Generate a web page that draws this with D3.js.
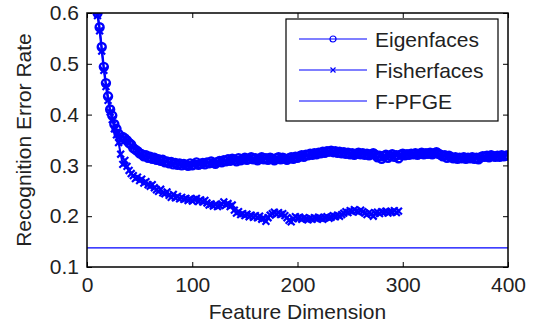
<!DOCTYPE html>
<html>
<head>
<meta charset="utf-8">
<script src="https://cdn.jsdelivr.net/npm/d3@7"></script>
<style>
  body { margin: 0; background: #fff; }
  svg { display: block; font-family: "Liberation Sans", Arial, sans-serif; }
</style>
</head>
<body>
<div id="chart"></div>
<script>
// feature dimensions sampled every 2 units
const eigenDims = d3.range(10, 401, 2);
const fisherDims = d3.range(10, 297, 2);

const eigenfaces = [
  0.600, 0.572, 0.533, 0.494, 0.462, 0.436, 0.410, 0.398, 0.381, 0.372,
  0.362, 0.351, 0.356, 0.353, 0.349, 0.344, 0.341, 0.334, 0.331, 0.328,
  0.324, 0.322, 0.318, 0.320, 0.315, 0.317, 0.313, 0.315, 0.311, 0.312,
  0.309, 0.311, 0.306, 0.308, 0.304, 0.307, 0.302, 0.305, 0.301, 0.304,
  0.300, 0.303, 0.301, 0.299, 0.304, 0.300, 0.302, 0.306, 0.301, 0.303,
  0.305, 0.302, 0.306, 0.304, 0.308, 0.305, 0.303, 0.307, 0.309, 0.306,
  0.310, 0.308, 0.312, 0.309, 0.313, 0.311, 0.308, 0.314, 0.310, 0.312,
  0.315, 0.311, 0.313, 0.316, 0.312, 0.314, 0.310, 0.313, 0.316, 0.312,
  0.314, 0.311, 0.315, 0.313, 0.310, 0.314, 0.316, 0.312, 0.315, 0.313,
  0.311, 0.314, 0.316, 0.313, 0.317, 0.315, 0.318, 0.320, 0.317, 0.321,
  0.320, 0.323, 0.321, 0.324, 0.322, 0.325, 0.324, 0.327, 0.325, 0.328,
  0.327, 0.329, 0.326, 0.328, 0.325, 0.327, 0.324, 0.326, 0.323, 0.325,
  0.322, 0.324, 0.321, 0.323, 0.325, 0.322, 0.324, 0.321, 0.323, 0.320,
  0.322, 0.324, 0.321, 0.316, 0.319, 0.313, 0.318, 0.321, 0.315, 0.319,
  0.322, 0.317, 0.320, 0.314, 0.321, 0.323, 0.320, 0.322, 0.321, 0.323,
  0.322, 0.324, 0.321, 0.323, 0.325, 0.322, 0.324, 0.323, 0.325, 0.322,
  0.324, 0.326, 0.323, 0.321, 0.318, 0.320, 0.315, 0.319, 0.316, 0.314,
  0.316, 0.313, 0.315, 0.314, 0.316, 0.313, 0.315, 0.314, 0.316, 0.313,
  0.315, 0.312, 0.316, 0.318, 0.317, 0.319, 0.316, 0.320, 0.318, 0.317,
  0.319, 0.317, 0.320, 0.318, 0.319, 0.320
];

const fisherfaces = [
  0.595, 0.565, 0.525, 0.487, 0.455, 0.428, 0.405, 0.390, 0.372, 0.360,
  0.345, 0.322, 0.302, 0.310, 0.298, 0.290, 0.284, 0.280, 0.274, 0.277,
  0.270, 0.273, 0.265, 0.268, 0.262, 0.259, 0.262, 0.256, 0.252, 0.249,
  0.253, 0.246, 0.244, 0.248, 0.241, 0.237, 0.243, 0.236, 0.239, 0.234,
  0.237, 0.233, 0.235, 0.231, 0.234, 0.230, 0.233, 0.235, 0.229, 0.232,
  0.228, 0.231, 0.226, 0.222, 0.224, 0.220, 0.223, 0.219, 0.221, 0.224,
  0.228, 0.222, 0.225, 0.219, 0.222, 0.212, 0.206, 0.209, 0.203, 0.205,
  0.201, 0.204, 0.199, 0.202, 0.198, 0.201, 0.197, 0.200, 0.194, 0.196,
  0.190, 0.197, 0.202, 0.205, 0.208, 0.204, 0.207, 0.203, 0.205, 0.201,
  0.197, 0.192, 0.189, 0.195, 0.199, 0.196, 0.198, 0.194, 0.197, 0.195,
  0.193, 0.196, 0.194, 0.197, 0.195, 0.198, 0.196, 0.194, 0.197, 0.199,
  0.196, 0.198, 0.201, 0.199, 0.202, 0.200, 0.203, 0.206, 0.209, 0.207,
  0.211, 0.209, 0.213, 0.210, 0.208, 0.212, 0.209, 0.206, 0.203, 0.207,
  0.204, 0.200, 0.206, 0.208, 0.205, 0.209, 0.207, 0.210, 0.206, 0.209,
  0.208, 0.211, 0.207, 0.210
];

const fpfge = 0.1375;

const xTicks = [0, 100, 200, 300, 400];
const yTicks = [0.1, 0.2, 0.3, 0.4, 0.5, 0.6];
const legendNames = ['Eigenfaces', 'Fisherfaces', 'F-PFGE'];

const width = 540, height = 328;
const plotL = 87, plotR = 508, plotT = 13, plotB = 267;
const blue = '#0000ff';

const svg = d3.select('#chart').append('svg').attr('width', width).attr('height', height);

const x = d3.scaleLinear().domain([0, 400]).range([plotL, plotR]);
const y = d3.scaleLinear().domain([0.1, 0.6]).range([plotB, plotT]);

svg.append('clipPath').attr('id', 'plot-clip')
  .append('rect').attr('x', plotL).attr('y', plotT).attr('width', plotR - plotL).attr('height', plotB - plotT);

const plot = svg.append('g').attr('clip-path', 'url(#plot-clip)');

const eigenData = eigenDims.map((d, i) => [d, eigenfaces[i]]);
const fisherData = fisherDims.map((d, i) => [d, fisherfaces[i]]);

const line = d3.line().x(d => x(d[0])).y(d => y(d[1]));

// F-PFGE reference line
plot.append('line')
  .attr('x1', x(0)).attr('x2', x(400)).attr('y1', y(fpfge)).attr('y2', y(fpfge))
  .attr('stroke', blue).attr('stroke-width', 1.2);

// Fisherfaces: line with x markers
plot.append('path').datum(fisherData).attr('d', line)
  .attr('fill', 'none').attr('stroke', blue).attr('stroke-width', 2);
const xMark = (g, s, w) => g.append('path')
  .attr('d', `M${-s},${-s}L${s},${s}M${-s},${s}L${s},${-s}`)
  .attr('stroke', blue).attr('stroke-width', w).attr('fill', 'none');
plot.append('g').selectAll('g').data(fisherData).join('g')
  .attr('transform', d => `translate(${x(d[0])},${y(d[1])})`)
  .each(function () { xMark(d3.select(this), 3.4, 2.2); });

// Eigenfaces: line with circle markers
plot.append('path').datum(eigenData).attr('d', line)
  .attr('fill', 'none').attr('stroke', blue).attr('stroke-width', 2);
plot.append('g').selectAll('circle').data(eigenData).join('circle')
  .attr('cx', d => x(d[0])).attr('cy', d => y(d[1])).attr('r', 4)
  .attr('fill', 'none').attr('stroke', blue).attr('stroke-width', 2.4);

// axes with inward ticks on all four sides
const tickStyle = g => {
  g.select('.domain').remove();
  g.selectAll('.tick line').attr('stroke', '#000');
  g.selectAll('.tick text').attr('fill', '#222').style('font-size', '21px')
    .style('font-family', '"Liberation Sans", Arial, sans-serif');
};

svg.append('g').attr('transform', `translate(0,${plotB})`)
  .call(d3.axisBottom(x).tickValues(xTicks).tickSizeInner(-5).tickSizeOuter(0).tickPadding(10))
  .call(tickStyle);
svg.append('g').attr('transform', `translate(0,${plotT})`)
  .call(d3.axisTop(x).tickValues(xTicks).tickSizeInner(-5).tickSizeOuter(0).tickFormat(''))
  .call(tickStyle);
svg.append('g').attr('transform', `translate(${plotL},0)`)
  .call(d3.axisLeft(y).tickValues(yTicks).tickSizeInner(-5).tickSizeOuter(0).tickPadding(8).tickFormat(d3.format('.1f')))
  .call(tickStyle);
svg.append('g').attr('transform', `translate(${plotR},0)`)
  .call(d3.axisRight(y).tickValues(yTicks).tickSizeInner(-5).tickSizeOuter(0).tickFormat(''))
  .call(tickStyle);

svg.append('rect').attr('x', plotL).attr('y', plotT).attr('width', plotR - plotL).attr('height', plotB - plotT)
  .attr('fill', 'none').attr('stroke', '#000').attr('stroke-width', 1.5);

// axis titles
svg.append('text').attr('x', (plotL + plotR) / 2).attr('y', 319).attr('text-anchor', 'middle')
  .style('font-size', '21px').attr('fill', '#222').text('Feature Dimension');
svg.append('text').attr('transform', `translate(31,${(plotT + plotB) / 2}) rotate(-90)`)
  .attr('text-anchor', 'middle').style('font-size', '21px').attr('fill', '#222')
  .text('Recognition Error Rate');

// legend
const legend = svg.append('g');
legend.append('rect').attr('x', 286).attr('y', 19).attr('width', 212).attr('height', 102)
  .attr('fill', '#fff').attr('stroke', '#000').attr('stroke-width', 1.2);
const rows = legend.selectAll('g.row').data(legendNames).join('g').attr('class', 'row')
  .attr('transform', (d, i) => `translate(0,${39 + i * 31})`);
rows.append('line').attr('x1', 299).attr('x2', 367).attr('stroke', blue).attr('stroke-width', 1.2);
rows.append('text').attr('x', 375).attr('y', 7.5).style('font-size', '21px').attr('fill', '#222')
  .text(d => d);
rows.filter((d, i) => i === 0).append('circle').attr('cx', 333).attr('r', 3)
  .attr('fill', 'none').attr('stroke', blue).attr('stroke-width', 1.2);
rows.filter((d, i) => i === 1).append('g').attr('transform', 'translate(333,0)')
  .each(function () { xMark(d3.select(this), 2.5, 1.2); });
</script>
</body>
</html>
